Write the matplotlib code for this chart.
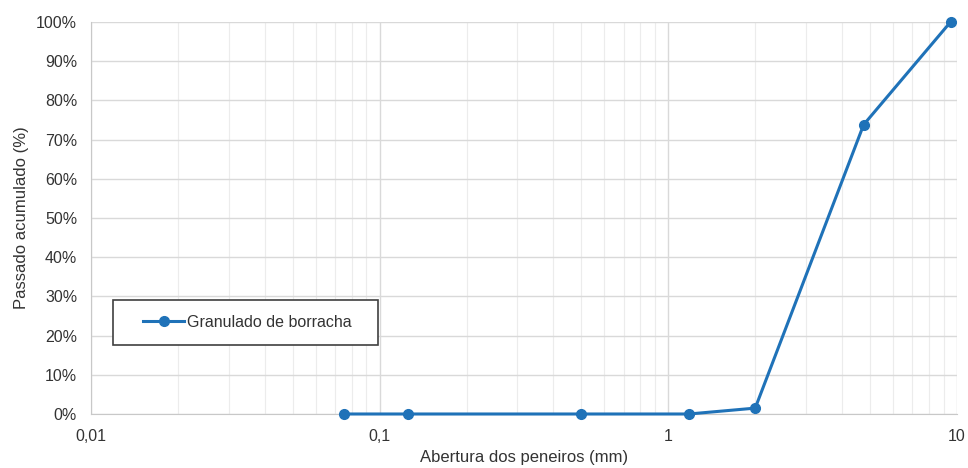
import matplotlib
matplotlib.use("Agg")
from matplotlib import pyplot as plt
from matplotlib.patches import Rectangle
from matplotlib.ticker import FixedLocator, LogLocator, NullFormatter
import numpy as np

plt.rcParams['font.family'] = ['Liberation Sans', 'DejaVu Sans']

# sieve openings (mm) and cumulative passing (%)
abertura = [0.075, 0.125, 0.5, 1.18, 2.0, 4.75, 9.5]
passado = [0, 0, 0, 0, 1.5, 73.8, 100]
serie = "Granulado de borracha"

x_ticks = [0.01, 0.1, 1, 10]
x_labels = ["0,01", "0,1", "1", "10"]
y_ticks = list(range(0, 101, 10))

azul = "#1f72b8"
grade = "#d9d9d9"
texto = '#333333'

fig = plt.figure(figsize=(9.68, 4.68), dpi=100)
ax = fig.add_axes([0.094, 0.1154, 0.8946, 0.8376])

ax.plot(abertura, passado, color=azul, lw=2.2, marker='o', ms=7,
        label=serie, zorder=3, clip_on=False)

ax.set_xscale('log')
ax.set_xlim(0.01, 10)
ax.set_ylim(0, 100)
ax.xaxis.set_major_locator(FixedLocator(x_ticks))
ax.set_xticklabels(x_labels)
ax.xaxis.set_minor_locator(LogLocator(base=10, subs=np.arange(2, 10)))
ax.xaxis.set_minor_formatter(NullFormatter())
ax.set_yticks(y_ticks)
ax.set_yticklabels([f"{v}%" for v in y_ticks])

ax.grid(which='major', color=grade, lw=1.0)
ax.grid(which='minor', axis='x', color='#ececec', lw=0.8)
ax.set_axisbelow(True)
ax.tick_params(which='both', length=0, labelsize=11.5, colors=texto)
ax.tick_params(axis='y', pad=10)
ax.tick_params(axis='x', pad=11)

for side in ['top', 'right']:
    ax.spines[side].set_visible(False)
for side in ['left', 'bottom']:
    ax.spines[side].set_color('#c8c8c8')

ax.set_xlabel("Abertura dos peneiros (mm)", fontsize=12, color=texto, labelpad=4)
ax.set_ylabel("Passado acumulado (%)", fontsize=12, color=texto, labelpad=5)

# legend box drawn as its own rectangle, entry placed inside without frame
caixa = Rectangle((0.0254, 0.176), 0.306, 0.115, transform=ax.transAxes,
                  facecolor='white', edgecolor='#404040', lw=1.2, zorder=4)
ax.add_patch(caixa)
leg = ax.legend(loc='center left', bbox_to_anchor=(0.06, 0.2335),
                frameon=False, fontsize=11.5, borderaxespad=0, borderpad=0,
                handlelength=2.6, handletextpad=0.15)
leg.set_zorder(5)
for t in leg.get_texts():
    t.set_color(texto)

fig.savefig("out.png", dpi=100)
